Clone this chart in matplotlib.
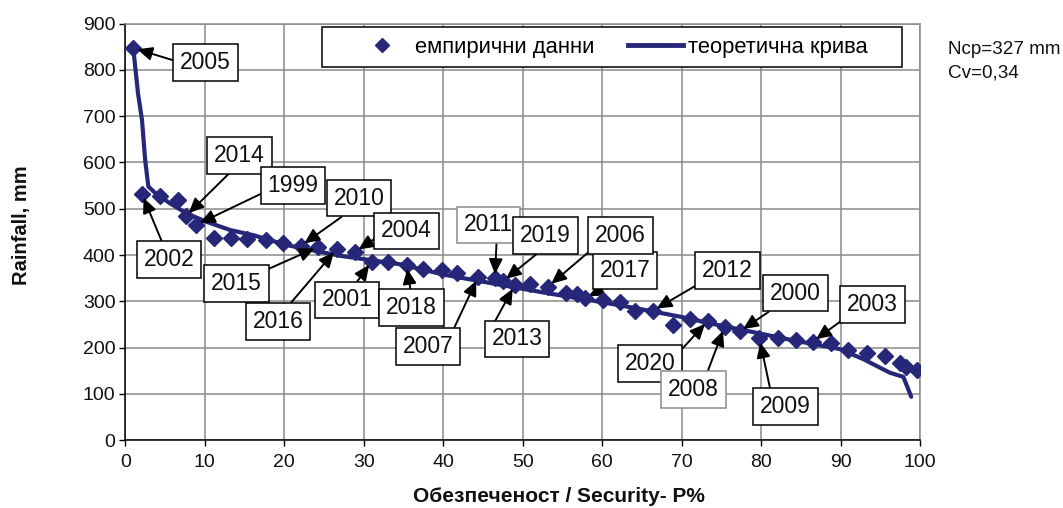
import matplotlib
matplotlib.use("Agg")
import matplotlib.pyplot as plt
from matplotlib.patches import Rectangle
from matplotlib.lines import Line2D

plt.rcParams['font.family'] = ['Liberation Sans', 'DejaVu Sans']

# Empirical exceedance probability (%) and annual rainfall (mm)
security_emp = [1.0, 2.1, 4.4, 6.6, 7.6, 8.9, 11.2, 13.3, 15.3, 17.7,
                19.9, 22.1, 24.3, 26.6, 28.9, 31.0, 33.1, 35.4, 37.5, 39.8,
                41.7, 44.4, 46.5, 47.5, 49.0, 50.9, 53.2, 55.5, 56.8, 57.8,
                60.1, 62.2, 64.2, 66.4, 68.9, 71.0, 73.3, 75.4, 77.3, 79.8,
                82.1, 84.4, 86.5, 88.8, 90.9, 93.3, 95.6, 97.5, 98.3, 99.6]
rainfall_emp = [847, 532, 527, 519, 484, 465, 437, 436, 435, 433,
                425, 420, 418, 413, 407, 386, 384, 379, 369, 368,
                361, 353, 350, 343, 335, 338, 332, 319, 315, 307,
                303, 299, 280, 280, 250, 262, 258, 245, 235, 220,
                220, 217, 213, 211, 195, 188, 181, 167, 158, 152]

# Theoretical supply curve
security_theo = [1.0, 1.6, 2.1, 2.5, 2.9, 3.7, 5.6, 7.7, 10.2, 13.2,
                 16.1, 20.2, 24.5, 27.2, 34.6, 40.0, 47.1, 53.0, 59.7, 64.0,
                 69.8, 74.0, 78.6, 84.0, 89.9, 92.9, 96.2, 97.9, 98.9]
rainfall_theo = [847, 749, 692, 605, 548, 535, 512, 490, 472, 454,
                 443, 422, 407, 398, 380, 358, 336, 318, 299, 286,
                 267, 251, 235, 216, 197, 175, 146, 137, 94]

# Years shown in callouts and the empirical point each one refers to
label_years = [2005, 2002, 2014, 1999, 2010, 2015, 2016, 2004, 2001, 2018, 2007,
               2011, 2019, 2013, 2006, 2017, 2012, 2020, 2008, 2000, 2009, 2003]
label_point = [0, 1, 4, 5, 11, 12, 13, 14, 15, 17, 21,
               22, 23, 24, 26, 29, 33, 36, 37, 38, 39, 42]

# Callout text centres (axis units) and where each leader leaves its box
label_pos = [(10.1, 816), (5.5, 391), (14.4, 615), (21.1, 550), (29.4, 523),
             (14.0, 339), (19.2, 257), (35.4, 452), (27.9, 303), (36.0, 287),
             (38.1, 203), (45.7, 465), (52.9, 442), (49.3, 219), (62.3, 443),
             (62.9, 366), (75.8, 367), (66.0, 166), (71.5, 110), (84.3, 318),
             (83.1, 73), (94.0, 294)]
label_relpos = [(0, 0.5), (0.41, 1), (0.42, 0), (0, 0.28), (0.36, 0),
                (1, 1), (0.64, 1), (0, 0.35), (0.6, 1), (0.5, 1),
                (0.95, 1), (0.67, 0), (0.49, 0), (0, 1), (0, 0),
                (0.32, 0), (0, 0), (1, 0.8), (0.73, 1), (0.19, 0),
                (0.22, 1), (0.03, 0)]
grey_boxes = {2011, 2008}
behind_curve = {2017}

navy = '#27277a'
W, H = 1063, 508

fig = plt.figure(figsize=(W / 100, H / 100), dpi=100)
ax = fig.add_axes([125.3 / W, 1 - 440.3 / H, (920 - 125.3) / W, (440.3 - 23.5) / H])

ax.plot(security_theo, rainfall_theo, color=navy, lw=3.0, zorder=3,
        solid_joinstyle='round', solid_capstyle='round')
ax.plot(security_emp, rainfall_emp, ls='none', marker='D', ms=8.5,
        color=navy, mec=navy, zorder=3.5)

ax.set_xlim(0, 100)
ax.set_ylim(0, 900)
ax.set_xticks(range(0, 101, 10))
ax.set_yticks(range(0, 901, 100))
ax.tick_params(axis='both', direction='out', length=4, width=1, color='black',
               labelsize=14, labelcolor='#111111')
ax.tick_params(axis='x', pad=6)
ax.tick_params(axis='y', pad=3)
ax.grid(True, color='#8a8a8a', lw=1.1)
ax.set_axisbelow(True)
for side in ('left', 'bottom'):
    ax.spines[side].set_color('black')
    ax.spines[side].set_linewidth(1.1)
for side in ('top', 'right'):
    ax.spines[side].set_color('#8a8a8a')
    ax.spines[side].set_linewidth(1.1)

for year, idx, (lx, ly), rp in zip(label_years, label_point, label_pos, label_relpos):
    edge = '#8a8a8a' if year in grey_boxes else 'black'
    ax.annotate(str(year), xy=(security_emp[idx], rainfall_emp[idx]),
                xytext=(lx, ly), textcoords='data', ha='center', va='center',
                fontsize=16.5, color='#111111', annotation_clip=False,
                zorder=2.5 if year in behind_curve else 5,
                bbox=dict(boxstyle='square,pad=0.3', fc='white', ec=edge, lw=1.1),
                arrowprops=dict(arrowstyle='-|>,head_length=0.55,head_width=0.25',
                                color='black', lw=1.4, relpos=rp,
                                shrinkA=0, shrinkB=3))

# Legend frame and entries
fig.add_artist(Rectangle((322 / W, 1 - 67 / H), 580 / W, 40 / H,
                         transform=fig.transFigure, fc='white', ec='black',
                         lw=1.1, zorder=4))
handles = [Line2D([], [], ls='none', marker='D', ms=7, color=navy),
           Line2D([], [], color=navy, lw=3.5)]
fig.legend(handles, ['емпирични данни', 'теоретична крива'], ncol=2,
           loc='center left', bbox_to_anchor=(355 / W, 1 - 47 / H),
           frameon=False, fontsize=15.8, borderpad=0, borderaxespad=0,
           handlelength=2.5, handletextpad=0.25, columnspacing=1.5)

fig.text(948 / W, 1 - 49 / H, 'Ncp=327 mm', fontsize=13.6, va='center', color='#111111')
fig.text(948 / W, 1 - 73 / H, 'Cv=0,34', fontsize=13.6, va='center', color='#111111')

fig.text(559 / W, 1 - 497 / H, 'Обезпеченост / Security- P%', fontsize=15,
         fontweight='bold', ha='center', va='center', color='#111111')
fig.text(22 / W, 1 - 225 / H, 'Rainfall, mm', fontsize=14.5, fontweight='bold',
         rotation=90, ha='center', va='center', color='#111111')

fig.savefig('out.png', dpi=100)
